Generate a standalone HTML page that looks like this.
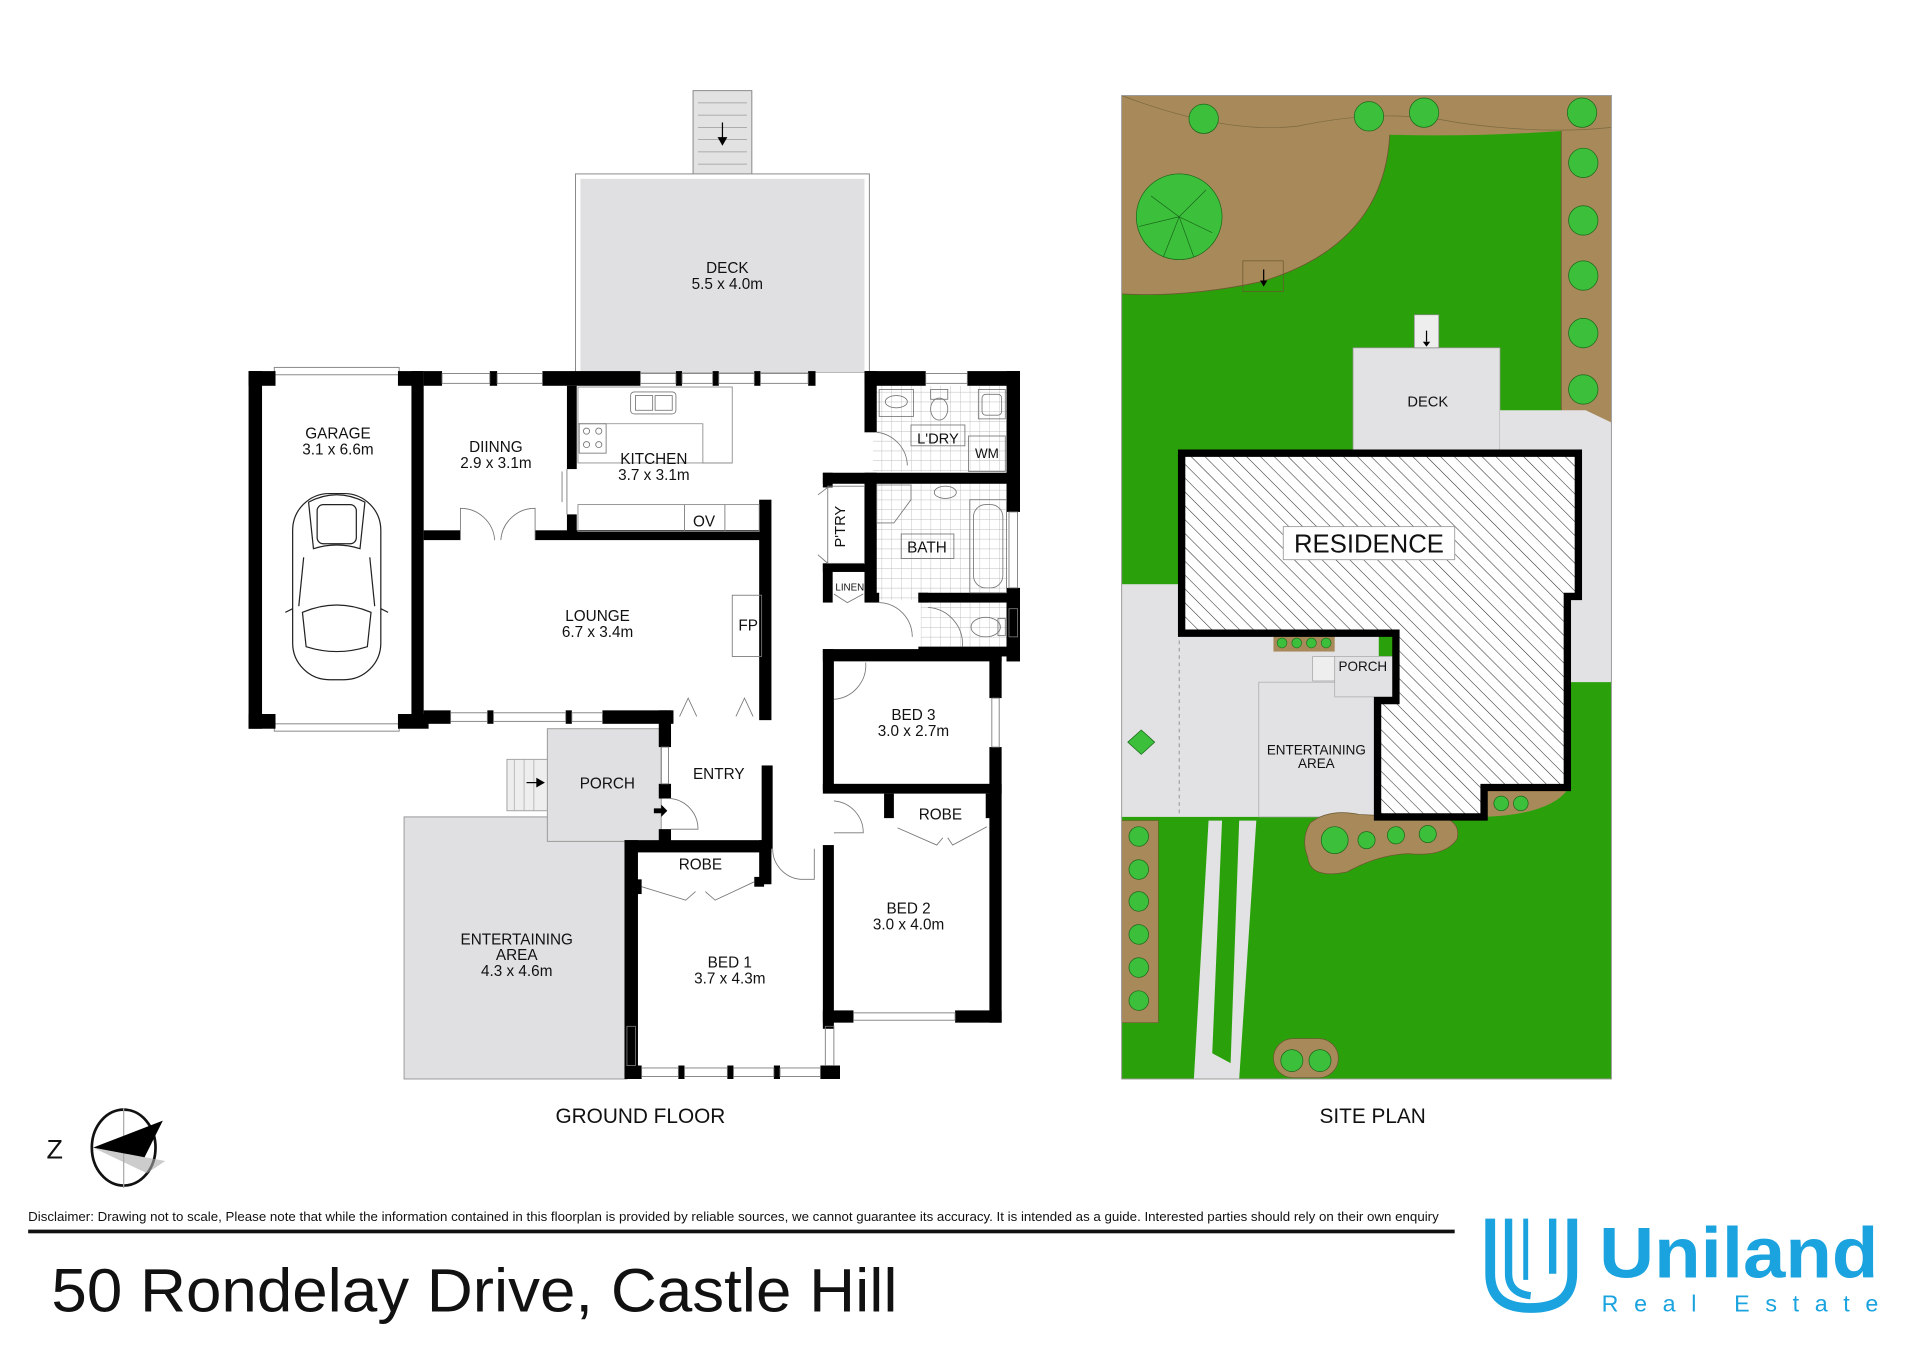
<!DOCTYPE html>
<html><head><meta charset="utf-8"><style>
html,body{margin:0;padding:0;background:#fff;}
svg{display:block;}
text{font-family:"Liberation Sans",Arial,sans-serif;fill:#111;}
</style></head><body>
<svg width="1920" height="1357" viewBox="0 0 1568 1108" preserveAspectRatio="none" xmlns="http://www.w3.org/2000/svg">
<defs>
<pattern id="hatch" width="8" height="8" patternUnits="userSpaceOnUse" patternTransform="rotate(-45)">
<rect width="8" height="8" fill="#fff"/><line x1="0" y1="0" x2="0" y2="8" stroke="#333" stroke-width="0.9"/>
</pattern>
<pattern id="tile" width="8" height="8" patternUnits="userSpaceOnUse">
<rect width="8" height="8" fill="#fff"/><path d="M0 0H8M0 0V8" stroke="#bbb" stroke-width="0.7"/>
</pattern>
</defs>

<!-- ================= GROUND FLOOR ================= -->
<rect x="566" y="74" width="48" height="70" fill="#e2e2e2" stroke="#888" stroke-width="0.8"/>
<g stroke="#999" stroke-width="0.6"><line x1="570" y1="84" x2="610" y2="84"/><line x1="570" y1="94" x2="610" y2="94"/><line x1="570" y1="104" x2="610" y2="104"/><line x1="570" y1="114" x2="610" y2="114"/><line x1="570" y1="124" x2="610" y2="124"/><line x1="570" y1="134" x2="610" y2="134"/></g>
<line x1="590" y1="100" x2="590" y2="114" stroke="#000" stroke-width="1"/><path d="M586 112 L594 112 L590 119Z" fill="#000"/>
<rect x="470" y="142" width="240" height="162" fill="#fff" stroke="#888" stroke-width="0.8"/>
<rect x="474" y="146" width="232" height="158" fill="#e0e0e2"/>
<text x="594" y="223" font-size="12.5" text-anchor="middle">DECK</text>
<text x="594" y="236" font-size="12.5" text-anchor="middle">5.5 x 4.0m</text>

<rect x="330" y="667" width="182" height="214" fill="#e0e0e2" stroke="#999" stroke-width="0.8"/>
<rect x="414" y="620" width="34" height="42" fill="#eee" stroke="#999" stroke-width="0.7"/>
<g stroke="#aaa" stroke-width="0.6"><line x1="420" y1="620" x2="420" y2="662"/><line x1="428" y1="620" x2="428" y2="662"/><line x1="436" y1="620" x2="436" y2="662"/></g>
<line x1="430" y1="639" x2="440" y2="639" stroke="#000"/><path d="M438 635L445 639L438 643Z" fill="#000"/>
<rect x="447" y="595" width="93" height="92" fill="#e0e0e2" stroke="#999" stroke-width="0.8"/>
<text x="496" y="644" font-size="12.5" text-anchor="middle">PORCH</text>
<text x="422" y="771" font-size="12.5" text-anchor="middle">ENTERTAINING</text>
<text x="422" y="784" font-size="12.5" text-anchor="middle">AREA</text>
<text x="422" y="797" font-size="12.5" text-anchor="middle">4.3 x 4.6m</text>

<rect x="713" y="315" width="110" height="70" fill="url(#tile)"/>
<rect x="715" y="394" width="108" height="96" fill="url(#tile)"/>
<rect x="752" y="492" width="70" height="37" fill="url(#tile)"/>

<g stroke="#888" stroke-width="0.8" fill="none">
<rect x="224" y="300" width="102" height="6"/><rect x="224" y="591" width="102" height="6"/>
</g>

<g fill="#000">
<rect x="203" y="303" width="11" height="292"/>
<rect x="203" y="303" width="22" height="12"/><rect x="203" y="583" width="22" height="12"/>
<rect x="325" y="303" width="21" height="12"/><rect x="325" y="583" width="25" height="12"/>
<rect x="336" y="303" width="10" height="290"/>
<rect x="346" y="303" width="15" height="12"/><rect x="400" y="303" width="6" height="12"/><rect x="443" y="303" width="80" height="12"/>
<rect x="552" y="303" width="5" height="12"/><rect x="582" y="303" width="5" height="12"/><rect x="616" y="303" width="5" height="12"/><rect x="660" y="303" width="6" height="12"/>
<rect x="706" y="303" width="50" height="12"/><rect x="790" y="303" width="43" height="12"/>
<rect x="463" y="315" width="8" height="68"/><rect x="463" y="420" width="8" height="20"/>
<rect x="346" y="433" width="30" height="8"/><rect x="437" y="433" width="192" height="8"/>
<rect x="620" y="408" width="10" height="180"/>
<rect x="346" y="580" width="22" height="11"/><rect x="398" y="580" width="5" height="11"/><rect x="462" y="580" width="5" height="11"/><rect x="492" y="580" width="58" height="11"/>
<rect x="538" y="580" width="10" height="30"/><rect x="538" y="640" width="10" height="12"/><rect x="538" y="677" width="10" height="14"/>
<rect x="622" y="625" width="9" height="68"/>
<rect x="510" y="686" width="11" height="194"/><rect x="510" y="686" width="120" height="10"/>
<rect x="620" y="686" width="10" height="36"/><rect x="518" y="718" width="6" height="12"/><rect x="616" y="716" width="8" height="8"/>
<rect x="510" y="870" width="14" height="11"/><rect x="554" y="870" width="5" height="11"/><rect x="594" y="870" width="5" height="11"/><rect x="632" y="870" width="5" height="11"/><rect x="670" y="870" width="16" height="11"/>
<rect x="672" y="690" width="9" height="150"/><rect x="672" y="825" width="25" height="10"/><rect x="780" y="825" width="38" height="10"/>
<rect x="672" y="530" width="146" height="10"/><rect x="672" y="530" width="9" height="115"/>
<rect x="672" y="640" width="146" height="8"/>
<rect x="808" y="530" width="10" height="40"/><rect x="808" y="610" width="10" height="225"/>
<rect x="722" y="648" width="8" height="20"/><rect x="805" y="648" width="5" height="20"/>
<rect x="706" y="303" width="10" height="50"/>
<rect x="822" y="303" width="11" height="115"/><rect x="822" y="480" width="11" height="17"/><rect x="822" y="520" width="11" height="20"/>
<rect x="672" y="386" width="160" height="9"/><rect x="706" y="386" width="10" height="104"/>
<rect x="672" y="386" width="8" height="12"/><rect x="672" y="460" width="8" height="32"/><rect x="672" y="460" width="40" height="7"/>
<rect x="706" y="484" width="12" height="8"/><rect x="750" y="484" width="82" height="8"/><rect x="750" y="484" width="8" height="8"/>
<rect x="822" y="490" width="11" height="50"/><rect x="750" y="528" width="82" height="8"/>
</g>
<g stroke="#777" stroke-width="0.7" fill="none">
<rect x="361" y="305" width="39" height="8"/><rect x="406" y="305" width="37" height="8"/>
<rect x="523" y="305" width="29" height="8"/><rect x="557" y="305" width="25" height="8"/><rect x="587" y="305" width="29" height="8"/><rect x="621" y="305" width="39" height="8"/>
<rect x="756" y="305" width="34" height="8"/>
<rect x="368" y="582" width="30" height="7"/><rect x="403" y="582" width="59" height="7"/><rect x="467" y="582" width="25" height="7"/>
<rect x="540" y="610" width="6" height="30"/>
<rect x="524" y="872" width="30" height="7"/><rect x="559" y="872" width="35" height="7"/><rect x="599" y="872" width="33" height="7"/><rect x="637" y="872" width="33" height="7"/>
<rect x="512" y="838" width="7" height="32"/><rect x="674" y="838" width="7" height="32"/>
<rect x="697" y="827" width="83" height="6"/>
<rect x="810" y="570" width="6" height="40"/>
<rect x="824" y="418" width="7" height="62"/><rect x="824" y="497" width="7" height="23"/>
<path d="M376 441 V415 A28 28 0 0 1 404 441"/><path d="M437 441 V415 A28 28 0 0 0 409 441"/>
<path d="M555 585 L562 570 L569 585"/><path d="M601 585 L608 570 L615 585"/>
<path d="M548 652 A25 25 0 0 1 570 677 H548"/>
<path d="M631 693 A25 25 0 0 0 656 718 H665 V693"/>
<path d="M681 571 A28 28 0 0 0 707 541"/>
<path d="M681 654 A26 26 0 0 1 705 680 H681"/>
<path d="M716 353 A28 28 0 0 1 741 380"/>
<path d="M718 492 A28 28 0 0 1 745 520"/>
<path d="M758 496 A30 30 0 0 1 786 528"/>
<path d="M524 724 L560 735 L568 728 M576 728 L584 735 L616 720"/>
<path d="M733 676 L765 690 L770 684 M774 684 L778 690 L806 675"/>
<path d="M668 404 L676 398 M668 453 L676 460"/>
<path d="M681 485 L692 492 L705 485"/>
<rect x="472" y="316" width="126" height="62" stroke="#888"/>
<path d="M472 346 H574 V378 H598" stroke="#888"/>
<rect x="515" y="320" width="37" height="18" rx="3"/><rect x="519" y="323" width="14" height="12"/><rect x="535" y="323" width="14" height="12"/>
<rect x="473" y="346" width="22" height="24"/><circle cx="479" cy="352" r="2.5"/><circle cx="489" cy="352" r="2.5"/><circle cx="479" cy="363" r="2.5"/><circle cx="489" cy="363" r="2.5"/>
<rect x="472" y="412" width="148" height="22" stroke="#888"/><line x1="559" y1="412" x2="559" y2="434"/><line x1="592" y1="412" x2="592" y2="434"/>
<line x1="463" y1="383" x2="463" y2="420"/><line x1="459" y1="385" x2="459" y2="410"/>
<rect x="598" y="486" width="24" height="50"/>
<rect x="718" y="318" width="28" height="22"/><ellipse cx="732" cy="328" rx="9" ry="5"/>
<ellipse cx="767" cy="334" rx="7" ry="9"/><rect x="760" y="318" width="14" height="8"/>
<rect x="799" y="318" width="22" height="24"/><rect x="802" y="322" width="16" height="17" rx="3"/>
<rect x="791" y="356" width="30" height="29"/>
<rect x="744" y="347" width="44" height="17"/>
<path d="M716 396 H744 V408 L730 427 H716Z"/>
<ellipse cx="772" cy="402" rx="9" ry="5"/>
<rect x="792" y="408" width="30" height="76"/><rect x="795" y="412" width="24" height="68" rx="10"/>
<rect x="736" y="436" width="43" height="20"/>
<ellipse cx="805" cy="512" rx="12" ry="8"/><rect x="815" y="505" width="6" height="14"/>
<rect x="676" y="397" width="30" height="63"/>
</g>
<g fill="none" stroke="#222" stroke-width="1">
<rect x="239" y="403" width="72" height="152" rx="30"/>
<path d="M252 410 Q275 398 298 410 L294 448 Q275 442 256 448Z"/>
<rect x="259" y="412" width="32" height="32" rx="5"/>
<path d="M247 500 Q275 488 303 500 L300 528 Q275 536 250 528Z"/>
<path d="M248 455 L244 495 M302 455 L306 495"/>
<path d="M233 500 L239 497 M317 500 L311 497"/>
</g>
<g font-size="12.5" text-anchor="middle">
<text x="276" y="358">GARAGE</text><text x="276" y="371">3.1 x 6.6m</text>
<text x="405" y="369">DIINNG</text><text x="405" y="382">2.9 x 3.1m</text>
<text x="534" y="379">KITCHEN</text><text x="534" y="392">3.7 x 3.1m</text>
<text x="575" y="430">OV</text>
<text x="488" y="507">LOUNGE</text><text x="488" y="520">6.7 x 3.4m</text>
<text x="611" y="515">FP</text>
<text x="587" y="636">ENTRY</text>
<text x="572" y="710">ROBE</text>
<text x="596" y="790">BED 1</text><text x="596" y="803">3.7 x 4.3m</text>
<text x="742" y="746">BED 2</text><text x="742" y="759">3.0 x 4.0m</text>
<text x="768" y="669">ROBE</text>
<text x="746" y="588">BED 3</text><text x="746" y="601">3.0 x 2.7m</text>
<text x="766" y="362" font-size="12">L'DRY</text>
<text x="806" y="374" font-size="11">WM</text>
<text x="757" y="451">BATH</text>
<text x="694" y="482" font-size="8">LINEN</text>
<text x="690" y="430" font-size="12" transform="rotate(-90 690 430)">P'TRY</text>
</g>
<path d="M534 660 H540 V657 L545 662 L540 667 V664 H534Z" fill="#000"/>

<!-- ================= SITE PLAN ================= -->
<rect x="916" y="78" width="400" height="803" fill="#2aa10a"/>
<path d="M916 78 H1316 V360 L1275 338 V107 Q1200 112 1135 110 Q1130 200 1030 230 Q970 243 916 240Z" fill="#a8895a"/>
<path d="M916 78 Q1000 110 1060 103 Q1130 88 1190 100 Q1260 110 1316 104" fill="none" stroke="#7a6a40" stroke-width="0.6"/>
<path d="M916 240 Q970 243 1030 230 Q1130 200 1135 110 M1275 107 V338 L1316 360" fill="none" stroke="#6a5a30" stroke-width="0.7"/>
<rect x="1105" y="284" width="120" height="90" fill="#e2e2e4" stroke="#999" stroke-width="0.6"/>
<path d="M1225 335 H1295 L1316 345 V557 H1225Z" fill="#e2e2e4"/>
<rect x="916" y="477" width="210" height="190" fill="#e2e2e4"/>
<line x1="963" y1="517" x2="963" y2="667" stroke="#888" stroke-dasharray="3,3" stroke-width="0.7"/>
<rect x="1028" y="557" width="95" height="110" fill="#e2e2e4" stroke="#aaa" stroke-width="0.6"/>
<rect x="1090" y="536" width="50" height="33" fill="#e2e2e4" stroke="#aaa" stroke-width="0.6"/>
<rect x="1072" y="536" width="18" height="20" fill="#eee" stroke="#999" stroke-width="0.5"/>
<rect x="1040" y="518" width="50" height="14" fill="#a8895a"/>
<g fill="#3cc03c" stroke="#1a6a1a" stroke-width="0.5"><circle cx="1047" cy="525" r="4"/><circle cx="1059" cy="525" r="4"/><circle cx="1071" cy="525" r="4"/><circle cx="1083" cy="525" r="4"/></g>
<path d="M987 670 H998 L990 860 L1005 868 L1012 670 H1026 L1012 881 H975Z" fill="#e2e2e4"/>
<rect x="1155" y="257" width="20" height="27" fill="#eee" stroke="#888" stroke-width="0.6"/>
<rect x="1015" y="213" width="33" height="25" fill="none" stroke="#6a5a30" stroke-width="0.6"/>
<line x1="1032" y1="220" x2="1032" y2="230" stroke="#000"/><path d="M1029 229 H1035 L1032 234Z"/>
<line x1="1165" y1="270" x2="1165" y2="279" stroke="#000"/><path d="M1162 279 H1168 L1165 283Z"/>
<rect x="916" y="670" width="30" height="165" fill="#a8895a" stroke="#6a5a30" stroke-width="0.5"/>
<path d="M1070 672 Q1085 660 1110 665 L1150 667 Q1195 662 1190 685 Q1180 700 1150 697 Q1125 698 1100 712 Q1070 718 1068 700 Q1062 685 1070 672Z" fill="#a8895a" stroke="#6a5a30" stroke-width="0.6"/>
<path d="M1212 645 H1280 Q1265 665 1212 667Z" fill="#a8895a"/>
<rect x="1040" y="848" width="53" height="32" rx="16" fill="#a8895a" stroke="#6a5a30" stroke-width="0.6"/>
<g fill="#3cc03c" stroke="#1a6a1a" stroke-width="0.6">
<circle cx="963" cy="177" r="35"/>
<circle cx="983" cy="97" r="12"/><circle cx="1118" cy="95" r="12"/><circle cx="1163" cy="92" r="12"/><circle cx="1292" cy="92" r="12"/>
<circle cx="1293" cy="133" r="12"/><circle cx="1293" cy="180" r="12"/><circle cx="1293" cy="225" r="12"/><circle cx="1293" cy="272" r="12"/><circle cx="1293" cy="318" r="12"/>
<circle cx="930" cy="683" r="8"/><circle cx="930" cy="710" r="8"/><circle cx="930" cy="736" r="8"/><circle cx="930" cy="763" r="8"/><circle cx="930" cy="790" r="8"/><circle cx="930" cy="817" r="8"/>
<circle cx="1090" cy="686" r="11"/><circle cx="1116" cy="686" r="7"/><circle cx="1140" cy="682" r="7"/><circle cx="1166" cy="681" r="7"/>
<circle cx="1226" cy="656" r="6"/><circle cx="1242" cy="656" r="6"/>
<circle cx="1055" cy="866" r="9"/><circle cx="1078" cy="866" r="9"/>
<path d="M921 606 L932 596 L943 606 L932 616Z"/>
</g>
<g stroke="#1a6a1a" stroke-width="0.6"><path d="M963 177 L940 160 M963 177 L985 155 M963 177 L990 190 M963 177 L950 210 M963 177 L975 210 M963 177 L930 185"/></g>
<path d="M965 370 H1289 V487 H1280 V643 H1212 V667 H1125 V572 H1140 V517 H965Z" fill="url(#hatch)" stroke="#000" stroke-width="6"/>
<rect x="1048" y="430" width="140" height="27" fill="#fff" stroke="#999" stroke-width="0.7"/>
<text x="1118" y="451" font-size="21" text-anchor="middle">RESIDENCE</text>
<g font-size="12" text-anchor="middle">
<text x="1166" y="332">DECK</text>
<text x="1113" y="548" font-size="11">PORCH</text>
<text x="1075" y="616" font-size="11">ENTERTAINING</text>
<text x="1075" y="627" font-size="11">AREA</text>
</g>
<rect x="916" y="78" width="400" height="803" fill="none" stroke="#999" stroke-width="0.8"/>

<!-- ================= FOOTER ================= -->
<text x="523" y="917" font-size="17" text-anchor="middle">GROUND FLOOR</text>
<text x="1121" y="917" font-size="17" text-anchor="middle">SITE PLAN</text>
<g>
<ellipse cx="101" cy="937" rx="26" ry="31" fill="none" stroke="#111" stroke-width="2.2"/>
<line x1="101" y1="905" x2="101" y2="970" stroke="#aaa"/>
<path d="M76 937 L133 915 L118 945Z" fill="#000"/>
<path d="M76 937 L135 948 L120 958Z" fill="#aaa" opacity="0.6"/>
<text x="38" y="946" font-size="22" fill="#000">Z</text>
</g>
<text x="23" y="997" font-size="10.5" textLength="1152" lengthAdjust="spacingAndGlyphs">Disclaimer: Drawing not to scale, Please note that while the information contained in this floorplan is provided by reliable sources, we cannot guarantee its accuracy. It is intended as a guide. Interested parties should rely on their own enquiry</text>
<rect x="23" y="1004" width="1165" height="3" fill="#111"/>
<text x="42" y="1071" font-size="50" fill="#000" textLength="691" lengthAdjust="spacingAndGlyphs">50 Rondelay Drive, Castle Hill</text>
<g fill="none" stroke="#1aa3de">
<path d="M1217 995 V1040 Q1217 1068 1250 1068 Q1284 1068 1284 1040 V995" stroke-width="8"/>
<path d="M1232 995 V1040 Q1232 1056 1250 1058" stroke-width="6"/>
<path d="M1268 995 V1040" stroke-width="6"/>
<path d="M1246 995 V1045" stroke-width="4"/>
</g>
<text x="1306" y="1043" font-size="58" font-weight="bold" style="fill:#1aa3de" textLength="228" lengthAdjust="spacingAndGlyphs">Uniland</text>
<text x="1308" y="1071" font-size="19" style="fill:#1aa3de" textLength="226" lengthAdjust="spacing">Real Estate</text>
</svg>
</body></html>
